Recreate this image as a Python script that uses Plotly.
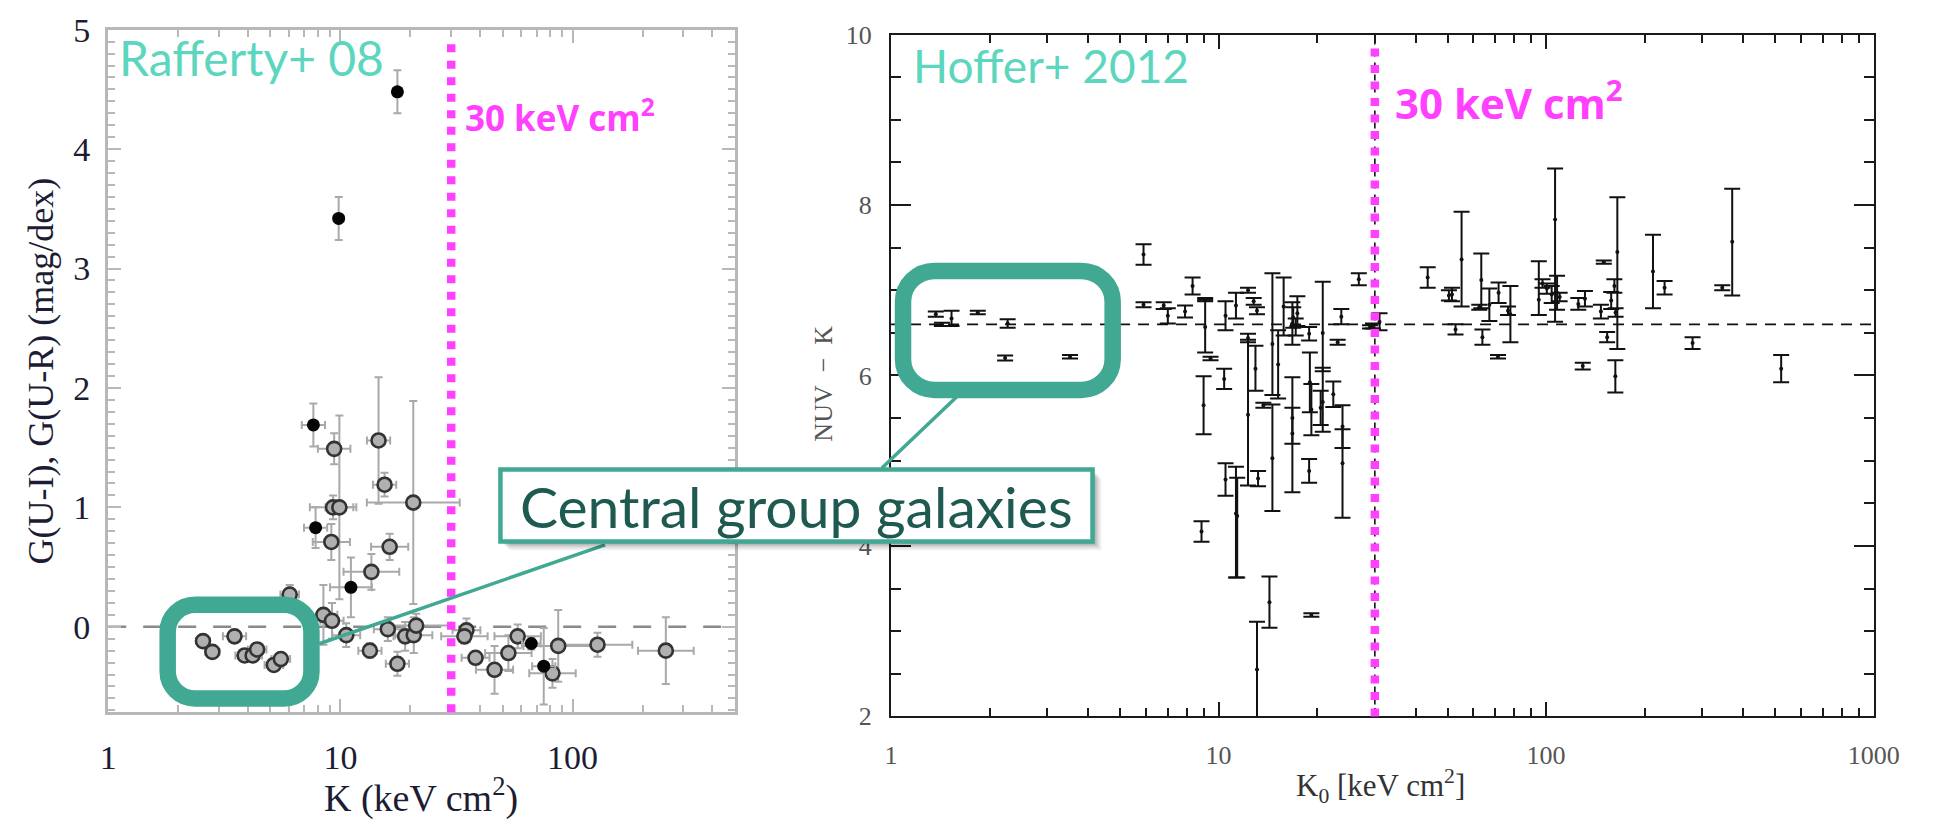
import numpy as np
import plotly.graph_objects as go

# ---------------------------------------------------------------- canvas
W, H = 1934, 819

def px(x):
    return x / W

def py(y):
    return 1 - y / H

# ---------------------------------------------------------------- data
THRESHOLD_K = 30  # keV cm^2

# Rafferty+08 : open symbols, G(U-R)
raf_open_k = [9.4, 14.6, 15.5, 9.3, 9.9, 20.6, 9.14, 16.3, 13.6, 6.05,
              8.45, 9.2, 10.6, 13.4, 16.0, 17.6, 19.0, 20.7, 21.2, 34.9,
              34.2, 38.2, 46.1, 52.9, 58.0, 86.7, 81.9, 128, 252,
              2.56, 2.81, 3.50, 3.87, 4.19, 4.38, 5.17, 5.54]
raf_open_g = [1.49, 1.56, 1.19, 1.00, 1.00, 1.04, 0.71, 0.67, 0.46, 0.27,
              0.10, 0.05, -0.07, -0.20, -0.02, -0.31, -0.08, -0.07, 0.01, -0.03,
              -0.08, -0.26, -0.36, -0.22, -0.08, -0.16, -0.39, -0.15, -0.20,
              -0.12, -0.21, -0.08, -0.24, -0.24, -0.19, -0.32, -0.27]
raf_open_gerr = [0.13, 0.53, 0.10, 0.10, 0.77, 0.85, 0.15, 0.11, 0.15, 0.08,
                 0.25, 0.15, 0.10, 0.06, 0.10, 0.10, 0.12, 0.15, 0.10, 0.10,
                 0.06, 0.05, 0.20, 0.15, 0.10, 0.30, 0.12, 0.10, 0.28,
                 0.05, 0.05, 0.05, 0.05, 0.05, 0.05, 0.05, 0.05]
raf_open_kdex = [0.07, 0.05, 0.05, 0.10, 0.06, 0.20, 0.08, 0.08, 0.12, 0.04,
                 0.06, 0.05, 0.06, 0.05, 0.06, 0.05, 0.05, 0.08, 0.15, 0.06,
                 0.10, 0.06, 0.08, 0.10, 0.10, 0.15, 0.10, 0.15, 0.12,
                 0.03, 0.03, 0.05, 0.04, 0.04, 0.04, 0.04, 0.04]

# Rafferty+08 : filled symbols, G(U-I)
raf_fill_k = [17.6, 9.83, 7.65, 7.82, 11.1, 66.4, 75.1]
raf_fill_g = [4.48, 3.42, 1.69, 0.83, 0.33, -0.14, -0.33]
raf_fill_gerr = [0.18, 0.18, 0.18, 0.17, 0.25, 0.05, 0.32]
raf_fill_kdex = [0.02, 0.02, 0.05, 0.05, 0.09, 0.04, 0.05]

# Hoffer+2012 : NUV - K versus central entropy K0
hof_k = [1.37, 1.43, 1.53, 1.84, 2.27, 2.23, 3.52,
         5.90, 5.90, 6.8, 7.0, 7.9, 8.33, 8.87, 9.0, 9.1, 9.1,
         9.45, 10.4, 10.5, 10.5, 11.3, 11.3, 11.4, 12.3, 12.8, 13.1,
         12.3, 12.3, 12.96, 13.2, 13.1, 13.7, 14.3, 14.6, 14.6, 15.2,
         15.8, 16.8, 16.8, 16.9, 16.8, 17.2, 17.4, 18.9, 19.0, 19.2,
         18.9, 19.2, 20.8, 20.8, 20.5, 22.4, 23.7, 23.1, 23.9, 23.9,
         26.8, 29.0, 29.6, 31.0,
         43.5, 50.5, 51.6, 52.9, 55.2, 62.5, 63.4, 63.9, 67.1, 71.3,
         71.6, 76.5, 77.8, 95.0, 97.5, 100.5, 104, 106.5, 108, 110,
         125.4, 129.4, 131.4, 147, 150, 153.6, 158, 161.6, 162.7, 163,
         165, 212, 230, 280, 345, 370, 522]
hof_nuvk = [6.72, 6.60, 6.67, 6.74, 6.61, 6.205, 6.22,
            7.42, 6.83, 6.82, 6.70, 6.75, 7.05, 4.17, 5.65, 6.89, 6.57,
            6.20, 5.96, 6.70, 4.78, 6.82, 4.38, 4.35, 7.00, 6.87, 6.76,
            6.44, 5.54, 6.08, 4.79, 2.55, 5.65, 3.34, 6.37, 5.03, 6.13,
            6.81, 5.50, 5.32, 6.68, 6.61, 6.57, 6.73, 6.49, 5.92, 5.60,
            4.88, 3.19, 6.50, 5.69, 5.62, 5.78, 6.69, 6.39, 5.40, 4.97,
            7.13, 6.57, 6.58, 6.63,
            7.15, 6.94, 6.95, 6.54, 7.36, 6.80, 7.12, 6.45, 6.83, 6.22,
            6.97, 6.76, 6.72, 6.89, 7.08, 7.02, 6.95, 7.83, 6.97, 6.92,
            6.84, 6.11, 6.90, 6.75, 7.33, 6.45, 6.88, 7.05, 5.99, 6.74,
            7.45, 7.22, 7.03, 6.38, 7.03, 7.57, 6.08]
hof_err_up = [0.03, 0.02, 0.09, 0.02, 0.05, 0.03, 0.02,
              0.12, 0.03, 0.04, 0.09, 0.07, 0.10, 0.12, 0.34, 0.02, 0.32,
              0.02, 0.12, 0.17, 0.19, 0.15, 0.55, 0.45, 0.03, 0.04, 0.04,
              0.05, 0.88, 0.27, 0.09, 0.56, 0.03, 0.30, 0.83, 0.63, 0.40,
              0.34, 0.48, 0.30, 0.12, 0.25, 0.10, 0.20, 0.08, 0.35, 0.30,
              0.14, 0.02, 0.60, 0.40, 0.20, 0.15, 0.09, 0.03, 0.25, 0.40,
              0.07, 0.02, 0.03, 0.10,
              0.12, 0.06, 0.08, 0.06, 0.56, 0.03, 0.31, 0.09, 0.19, 0.02,
              0.12, 0.05, 0.33, 0.45, 0.05, 0.06, 0.10, 0.60, 0.20, 0.05,
              0.07, 0.04, 0.09, 0.08, 0.02, 0.06, 0.10, 0.08, 0.19, 0.05,
              0.64, 0.43, 0.08, 0.07, 0.03, 0.62, 0.16]
hof_err_dn = [0.03, 0.02, 0.09, 0.02, 0.05, 0.03, 0.02,
              0.12, 0.03, 0.04, 0.09, 0.07, 0.10, 0.12, 0.34, 0.02, 0.30,
              0.02, 0.12, 0.17, 0.19, 0.15, 0.75, 0.72, 0.03, 0.04, 0.04,
              0.05, 0.83, 0.26, 0.09, 0.60, 0.03, 0.30, 0.60, 0.62, 0.40,
              0.34, 0.30, 0.69, 0.12, 0.25, 0.10, 0.15, 0.08, 0.35, 0.30,
              0.14, 0.02, 0.45, 0.35, 0.20, 0.15, 0.09, 0.03, 0.25, 0.64,
              0.07, 0.02, 0.03, 0.10,
              0.12, 0.06, 0.08, 0.06, 0.55, 0.03, 0.33, 0.09, 0.19, 0.02,
              0.12, 0.05, 0.33, 0.18, 0.05, 0.06, 0.10, 1.20, 0.20, 0.05,
              0.07, 0.04, 0.09, 0.08, 0.02, 0.06, 0.10, 0.08, 0.19, 0.05,
              1.14, 0.43, 0.08, 0.07, 0.03, 0.63, 0.16]
HOF_MEAN = 6.6

# ---------------------------------------------------------------- helpers
def log_err(k, dex):
    k = np.asarray(k, dtype=float)
    d = np.asarray(dex, dtype=float)
    return k * (10 ** d - 1), k * (1 - 10 ** (-d))


def rounded_path(x0, y0, x1, y1, r):
    """Rounded rectangle in pixel coordinates -> SVG path in paper units."""
    c = 0.5523 * r
    pts = [
        ("M", [(x0 + r, y0)]),
        ("L", [(x1 - r, y0)]),
        ("C", [(x1 - r + c, y0), (x1, y0 + r - c), (x1, y0 + r)]),
        ("L", [(x1, y1 - r)]),
        ("C", [(x1, y1 - r + c), (x1 - r + c, y1), (x1 - r, y1)]),
        ("L", [(x0 + r, y1)]),
        ("C", [(x0 + r - c, y1), (x0, y1 - r + c), (x0, y1 - r)]),
        ("L", [(x0, y0 + r)]),
        ("C", [(x0, y0 + r - c), (x0 + r - c, y0), (x0 + r, y0)]),
    ]
    out = []
    for cmd, ps in pts:
        out.append(cmd + " ".join(f"{px(a):.5f},{py(b):.5f}" for a, b in ps))
    return " ".join(out) + " Z"


# ---------------------------------------------------------------- traces
fig = go.Figure()

RAF_ERR = "#a9a9a9"
op_plus, op_minus = log_err(raf_open_k, raf_open_kdex)
fig.add_trace(go.Scatter(
    x=raf_open_k, y=raf_open_g, mode="markers", xaxis="x", yaxis="y",
    marker=dict(symbol="circle", size=14, color="#b0b0b0",
                line=dict(color="#333333", width=2.6)),
    error_x=dict(type="data", array=op_plus, arrayminus=op_minus,
                 color=RAF_ERR, thickness=2, width=4),
    error_y=dict(type="data", array=raf_open_gerr,
                 color=RAF_ERR, thickness=2, width=4),
))

fp_plus, fp_minus = log_err(raf_fill_k, raf_fill_kdex)
fig.add_trace(go.Scatter(
    x=raf_fill_k, y=raf_fill_g, mode="markers", xaxis="x", yaxis="y",
    marker=dict(symbol="circle", size=13, color="#050505"),
    error_x=dict(type="data", array=fp_plus, arrayminus=fp_minus,
                 color=RAF_ERR, thickness=2, width=4),
    error_y=dict(type="data", array=raf_fill_gerr,
                 color=RAF_ERR, thickness=2, width=4),
))

fig.add_trace(go.Scatter(
    x=hof_k, y=hof_nuvk, mode="markers", xaxis="x2", yaxis="y2",
    marker=dict(symbol="circle", size=4, color="#111111"),
    error_y=dict(type="data", array=hof_err_up, arrayminus=hof_err_dn,
                 color="#111111", thickness=2, width=8),
))

# ---------------------------------------------------------------- axes
SERIF = "Liberation Serif"
left_x_dom = [px(101), px(739.3)]
left_y_dom = [py(723.3), py(12.2)]
right_x_dom = [px(898.3), px(1899)]
right_y_dom = [py(727.7), py(17.3)]

LAX = "#b8b8b8"
fig.update_layout(
    xaxis=dict(
        type="log", range=[0, np.log10(500)], domain=left_x_dom, anchor="y",
        showgrid=False, zeroline=False, showline=True, linecolor=LAX,
        linewidth=3, mirror="ticks", ticks="inside", ticklen=13,
        tickwidth=2, tickcolor=LAX, tickvals=[1, 10, 100],
        ticktext=["1", "10", "100"],
        tickfont=dict(family=SERIF, size=34, color="#1c1c34"),
        ticklabelstandoff=13,
        minor=dict(ticks="inside", ticklen=7, tickwidth=2, tickcolor=LAX,
                   dtick="D1", showgrid=False),
    ),
    yaxis=dict(
        range=[-0.715, 5.0], domain=left_y_dom, anchor="x",
        showgrid=False, zeroline=False, showline=True, linecolor=LAX,
        linewidth=3, mirror="ticks", ticks="inside", ticklen=13,
        tickwidth=2, tickcolor=LAX, tickvals=[0, 1, 2, 3, 4, 5],
        tickfont=dict(family=SERIF, size=34, color="#1c1c34"),
        ticklabelstandoff=8,
        minor=dict(ticks="inside", ticklen=7, tickwidth=2, tickcolor=LAX,
                   dtick=0.1, showgrid=False),
    ),
    xaxis2=dict(
        type="log", range=[0, 3], domain=right_x_dom, anchor="y2",
        showgrid=False, zeroline=False, showline=True, linecolor="#1a1a1a",
        linewidth=2, mirror="ticks", ticks="inside", ticklen=14,
        tickwidth=2, tickcolor="#1a1a1a", tickvals=[1, 10, 100, 1000],
        ticktext=["1", "10", "100", "1000"],
        tickfont=dict(family=SERIF, size=26, color="#555555"),
        ticklabelstandoff=14,
        minor=dict(ticks="inside", ticklen=8, tickwidth=2,
                   tickcolor="#1a1a1a", dtick="D1", showgrid=False),
    ),
    yaxis2=dict(
        range=[2, 10], domain=right_y_dom, anchor="x2",
        showgrid=False, zeroline=False, showline=True, linecolor="#1a1a1a",
        linewidth=2, mirror="ticks", ticks="inside", ticklen=20,
        tickwidth=2, tickcolor="#1a1a1a", tickvals=[2, 4, 6, 8, 10],
        tickfont=dict(family=SERIF, size=26, color="#555555"),
        ticklabelstandoff=12,
        minor=dict(ticks="inside", ticklen=10, tickwidth=2,
                   tickcolor="#1a1a1a", dtick=0.5, showgrid=False),
    ),
)

# ---------------------------------------------------------------- reference lines
shapes = [
    dict(type="line", xref="x domain", x0=0, x1=1, yref="y", y0=0, y1=0,
         line=dict(color="#8a8a8a", width=2.5, dash="18px,17px"), layer="below"),
    dict(type="line", xref="x2 domain", x0=0, x1=1, yref="y2",
         y0=HOF_MEAN, y1=HOF_MEAN,
         line=dict(color="#111111", width=1.6, dash="11px,8px"), layer="below"),
    dict(type="line", xref="x2", x0=THRESHOLD_K, x1=THRESHOLD_K,
         yref="y2 domain", y0=0, y1=1,
         line=dict(color="#111111", width=1.6, dash="6px,6px"), layer="below"),
    dict(type="line", xref="x", x0=THRESHOLD_K, x1=THRESHOLD_K,
         yref="y domain", y0=0, y1=0.985,
         line=dict(color="#ff40ff", width=8.5, dash="8px,8.5px"), layer="above"),
    dict(type="line", xref="x2", x0=THRESHOLD_K, x1=THRESHOLD_K,
         yref="y2 domain", y0=0, y1=0.985,
         line=dict(color="#ff40ff", width=8.5, dash="8px,8.5px"), layer="above"),
]

# ---------------------------------------------------------------- call-out
TEAL = "#40a893"
shapes += [
    dict(type="line", xref="paper", yref="paper",
         x0=px(316), y0=py(652), x1=px(607), y1=py(549),
         line=dict(color=TEAL, width=3.5), layer="above"),
    dict(type="line", xref="paper", yref="paper",
         x0=px(965), y0=py(395), x1=px(889), y1=py(469),
         line=dict(color=TEAL, width=3.5), layer="above"),
    dict(type="path", xref="paper", yref="paper",
         path=rounded_path(161.6, 611.5, 308, 709, 28),
         line=dict(color=TEAL, width=16.5), layer="above"),
    dict(type="path", xref="paper", yref="paper",
         path=rounded_path(910.5, 263.5, 1124, 387.5, 32),
         line=dict(color=TEAL, width=16.5), layer="above"),
]
# soft drop shadow behind the label box
for off, alpha in [(9, 0.06), (7, 0.08), (5, 0.10), (3, 0.12)]:
    shapes.append(dict(type="rect", xref="paper", yref="paper",
                       x0=px(500.5 + off), x1=px(1103.5 + off),
                       y0=py(545.5 + off), y1=py(470.5 + off),
                       line=dict(width=0), fillcolor=f"rgba(0,0,0,{alpha})",
                       layer="above"))
shapes.append(dict(type="rect", xref="paper", yref="paper",
                   x0=px(500.5), x1=px(1103.5), y0=py(545.5), y1=py(470.5),
                   line=dict(color=TEAL, width=4.5), fillcolor="white",
                   layer="above"))

# ---------------------------------------------------------------- text
def label(text, x, y, size, color, family, xanchor="left", yanchor="middle",
          angle=0, weight="normal"):
    return dict(text=text, x=px(x), y=py(y), xref="paper", yref="paper",
                xanchor=xanchor, yanchor=yanchor, showarrow=False,
                textangle=angle,
                font=dict(size=size, color=color, family=family, weight=weight))


NB = "\u00a0"
annotations = [
    label("Rafferty+ 08", 110, 41, 48, "#5cd6be", "Lato"),
    label("Hoffer+ 2012", 919, 49, 46, "#5cd6be", "Lato"),
    label("30 keV cm<sup>2</sup>", 462, 102, 35, "#ff40ff", "Open Sans",
          weight="bold"),
    label("30 keV cm<sup>2</sup>", 1410, 86, 42, "#ff40ff", "Open Sans",
          weight="bold"),
    label("Central group galaxies", 802, 508, 57, "#1e5a50", "Lato",
          xanchor="center"),
    label("G(U-I), G(U-R) (mag/dex)", 33, 368, 36, "#1c1c34", SERIF,
          xanchor="center", angle=-90),
    label("K (keV cm<sup>2</sup>)", 420, 810, 38, "#1c1c34", SERIF,
          xanchor="center"),
    label(f"NUV{NB}{NB}\u2212{NB}{NB}K", 830, 381, 26, "#555555", SERIF,
          xanchor="center", angle=-90),
    label("K<sub>0</sub> [keV cm<sup>2</sup>]", 1397, 800, 31, "#333333", SERIF,
          xanchor="center"),
]

fig.update_layout(
    width=W, height=H, autosize=False,
    margin=dict(l=0, r=0, t=0, b=0, pad=0),
    paper_bgcolor="white", plot_bgcolor="white",
    showlegend=False, shapes=shapes, annotations=annotations,
)

fig.write_html("out.html")
